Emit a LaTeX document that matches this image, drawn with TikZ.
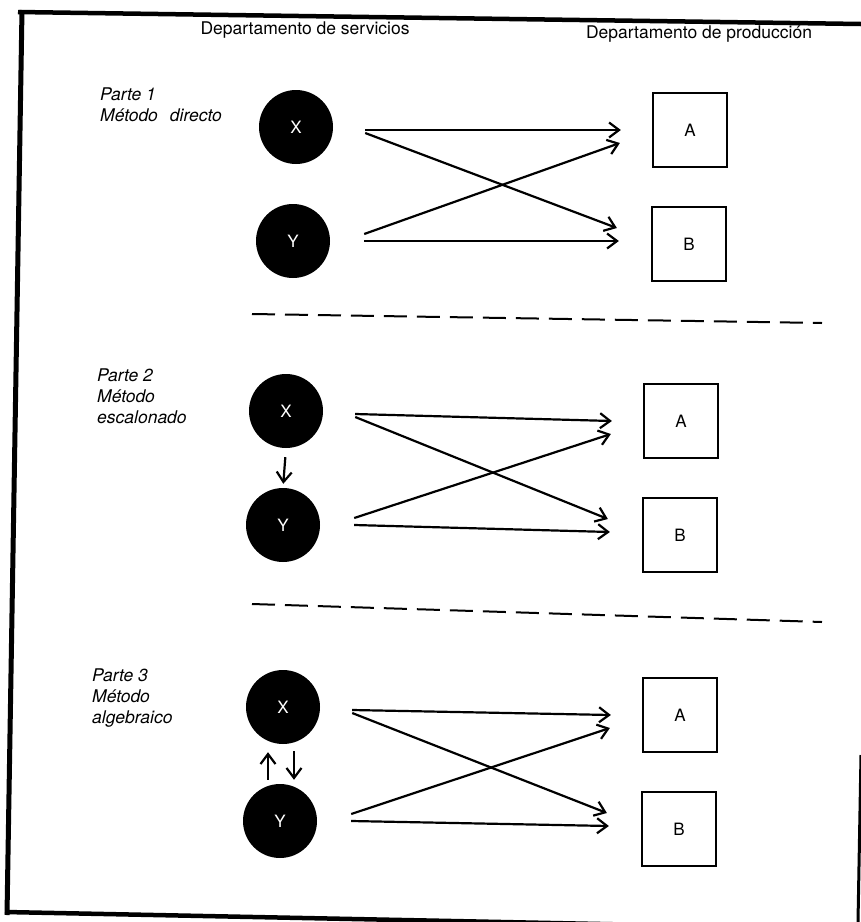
\documentclass[tikz,border=0pt]{standalone}
\usepackage{fontspec}
\setmainfont{TeX Gyre Heros}
\usetikzlibrary{arrows.meta,calc}
\begin{document}
\begin{tikzpicture}[x=1pt,y=-1pt,
	deptstyle/.style={circle, fill=black, minimum size=74pt,
		inner sep=0pt, text=white, font=\fontsize{17}{20}\selectfont},
	prodstyle/.style={rectangle, draw=black, line width=2.2pt,
		minimum size=74pt, inner sep=0pt, font=\fontsize{17}{20}\selectfont},
	labelstyle/.style={align=left, anchor=north west, inner sep=0pt,
		font=\fontsize{17.5}{21}\selectfont\itshape},
	headstyle/.style={anchor=base, inner sep=0pt,
		font=\fontsize{17.5}{21}\selectfont},
	flowstyle/.style={line width=2.2pt, -{Straight Barb[length=10pt,width=15pt]}},
	sepstyle/.style={line width=2pt, dash pattern=on 23pt off 10pt}]
	\useasboundingbox (0,0) rectangle (861,922);

	% frame
	\draw[line width=4.5pt] (18,12) -- (861,24);
	\draw[line width=5pt] (22,10) -- (7,915);
	\draw[line width=4.5pt] (5,912) -- (700,926);
	\draw[line width=3pt] (861,755) -- (858,922);

	\node (hs) [headstyle] at (305,34) {Departamento de servicios};
	\node (hp) [headstyle] at (699,38) {Departamento de producción};

	\node (p1) [labelstyle] at (100,88) {Parte 1\\Método\hspace{12pt}directo};
	\node (p2) [labelstyle] at (97,369) {Parte 2\\Método\\escalonado};
	\node (p3) [labelstyle] at (92,669) {Parte 3\\Método\\algebraico};

	\foreach \s/\xa/\ya/\xb/\yb in {1/296/127/690/130, 2/286/411/681/421, 3/283/707/680/715} {
		\node (X\s) [deptstyle] at (\xa,\ya) {X};
		\node (Y\s) [deptstyle] at (\xa-3,\ya+114) {Y};
		\node (A\s) [prodstyle] at (\xb,\yb) {A};
		\node (B\s) [prodstyle] at (\xb-1,\yb+114) {B};
		\draw[flowstyle] ($(X\s.east)+(32,3)$) -- ($(A\s.west)+(-31,0)$);
		\draw[flowstyle] ($(X\s.east)+(32,6)$) -- ($(B\s.west)+(-34,-16)$);
		\draw[flowstyle] ($(Y\s.east)+(34,-7)$) -- ($(A\s.west)+(-32,13)$);
		\draw[flowstyle] ($(Y\s.east)+(34,0)$) -- ($(B\s.west)+(-32,-3)$);
	};

	\draw[sepstyle] (252,314) -- (822,323);
	\draw[sepstyle] (252,604) -- (822,622);

	% escalonado / algebraico
	\draw[flowstyle, shorten <=9pt, shorten >=4pt] (X2.south) -- (Y2.north);
	\draw[flowstyle, shorten <=4pt, shorten >=8pt] ([xshift=-12pt]Y3.north) -- ([xshift=-15pt]X3.south);
	\draw[flowstyle, shorten <=7pt, shorten >=4pt] ([xshift=11pt]X3.south) -- ([xshift=14pt]Y3.north);
\end{tikzpicture}
\end{document}
